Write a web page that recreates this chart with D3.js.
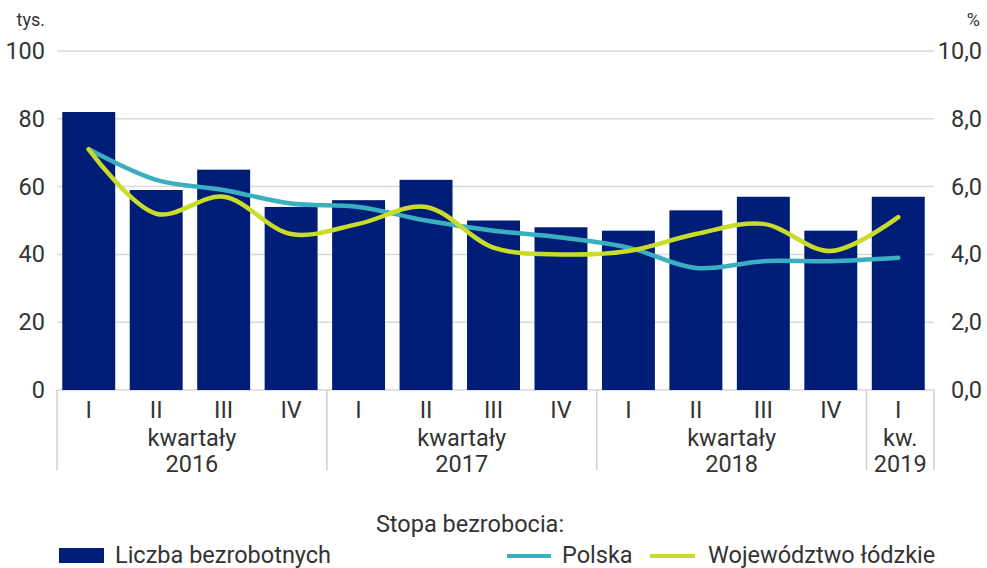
<!DOCTYPE html>
<html>
<head>
<meta charset="utf-8">
<script src="https://cdn.jsdelivr.net/npm/d3@7"></script>
<style>
  body { margin: 0; background: #fff; }
  svg text { font-family: Roboto, "Open Sans", sans-serif; fill: #333; }
</style>
</head>
<body>
<div id="chart"></div>
<script>
var quarters = ["I", "II", "III", "IV", "I", "II", "III", "IV", "I", "II", "III", "IV", "I"];
var yearGroups = [
  { top: "kwartały", year: "2016", count: 4 },
  { top: "kwartały", year: "2017", count: 4 },
  { top: "kwartały", year: "2018", count: 4 },
  { top: "kw.", year: "2019", count: 1 }
];
var unemployed = [82, 59, 65, 54, 56, 62, 50, 48, 47, 53, 57, 47, 57];
var ratePoland = [7.1, 6.2, 5.9, 5.5, 5.4, 5.0, 4.7, 4.5, 4.2, 3.6, 3.8, 3.8, 3.9];
var rateLodzkie = [7.1, 5.2, 5.7, 4.6, 4.9, 5.4, 4.2, 4.0, 4.1, 4.6, 4.9, 4.1, 5.1];
var leftTicks = [0, 20, 40, 60, 80, 100];
var rightTicks = [0, 2, 4, 6, 8, 10];

var colors = { bar: "#001e78", poland: "#3aafbf", lodzkie: "#c9dc2a", grid: "#d9d9d9", sep: "#cfcfcf" };

var width = 987, height = 568;
var plotLeft = 57, plotRight = 934, plotTop = 51, plotBottom = 390;
var fs = 23.5;
var shift = -2; // bars sit a touch left of their band centre in the original

var svg = d3.select("#chart").append("svg")
    .attr("width", width)
    .attr("height", height);

var x = d3.scaleBand().domain(d3.range(quarters.length)).range([plotLeft, plotRight]).paddingInner(0.215).paddingOuter(0.1075);
var yL = d3.scaleLinear().domain([0, 100]).range([plotBottom, plotTop]);
var yR = d3.scaleLinear().domain([0, 10]).range([plotBottom, plotTop]);

// gridlines
svg.append("g").selectAll("line").data(leftTicks).enter().append("line")
    .attr("x1", plotLeft).attr("x2", plotRight)
    .attr("y1", function(d) { return yL(d); })
    .attr("y2", function(d) { return yL(d); })
    .attr("stroke", colors.grid).attr("stroke-width", 1.5);

// left axis labels
svg.append("g").selectAll("text").data(leftTicks).enter().append("text")
    .attr("x", 45)
    .attr("y", function(d) { return yL(d) + 8; })
    .attr("text-anchor", "end")
    .attr("font-size", fs)
    .text(function(d) { return d; });
svg.append("text").attr("x", 45).attr("y", 26).attr("text-anchor", "end")
    .attr("font-size", 18).text("tys.");

// right axis labels
svg.append("g").selectAll("text").data(rightTicks).enter().append("text")
    .attr("x", 982)
    .attr("y", function(d) { return yR(d) + 8; })
    .attr("text-anchor", "end")
    .attr("font-size", fs)
    .text(function(d) { return d.toFixed(1).replace(".", ","); });
svg.append("text").attr("x", 980).attr("y", 26).attr("text-anchor", "end")
    .attr("font-size", 18).text("%");

// bars
svg.append("g").selectAll("rect").data(unemployed).enter().append("rect")
    .attr("x", function(d, i) { return x(i) + shift; })
    .attr("y", function(d) { return yL(d); })
    .attr("width", x.bandwidth())
    .attr("height", function(d) { return plotBottom - yL(d); })
    .attr("fill", colors.bar);

// lines
var line = function(scale) {
  return d3.line()
    .x(function(d, i) { return x(i) + x.bandwidth() / 2 + shift; })
    .y(function(d) { return scale(d); })
    .curve(d3.curveCatmullRom.alpha(0.5));
};
svg.append("path").datum(ratePoland)
    .attr("d", line(yR))
    .attr("fill", "none").attr("stroke", colors.poland)
    .attr("stroke-width", 4.5).attr("stroke-linecap", "round");
svg.append("path").datum(rateLodzkie)
    .attr("d", line(yR))
    .attr("fill", "none").attr("stroke", colors.lodzkie)
    .attr("stroke-width", 4.5).attr("stroke-linecap", "round");

// category axis
var axisG = svg.append("g");
axisG.selectAll("text.q").data(quarters).enter().append("text")
    .attr("class", "q")
    .attr("x", function(d, i) { return x(i) + x.bandwidth() / 2 + shift; })
    .attr("y", 418)
    .attr("text-anchor", "middle")
    .attr("font-size", fs)
    .text(function(d) { return d; });

var start = 0;
var seps = [plotLeft];
yearGroups.forEach(function(g) {
  var x0 = x(start) - x.step() * x.paddingInner() / 2;
  var end = start + g.count - 1;
  var x1 = x(end) + x.bandwidth() + x.step() * x.paddingInner() / 2;
  var cx = (x0 + x1) / 2;
  axisG.append("text").attr("x", cx).attr("y", 446).attr("text-anchor", "middle")
      .attr("font-size", fs).text(g.top);
  axisG.append("text").attr("x", cx).attr("y", 472).attr("text-anchor", "middle")
      .attr("font-size", fs).text(g.year);
  seps.push(x1);
  start += g.count;
});
axisG.selectAll("line").data(seps).enter().append("line")
    .attr("x1", function(d) { return d; }).attr("x2", function(d) { return d; })
    .attr("y1", plotBottom).attr("y2", 470)
    .attr("stroke", colors.sep).attr("stroke-width", 1.5);

// legend
var legend = svg.append("g");
legend.append("text").attr("x", 470).attr("y", 532).attr("text-anchor", "middle")
    .attr("font-size", fs).text("Stopa bezrobocia:");
legend.append("rect").attr("x", 59).attr("y", 548).attr("width", 45).attr("height", 15)
    .attr("fill", colors.bar);
legend.append("text").attr("x", 115).attr("y", 563).attr("font-size", fs).text("Liczba bezrobotnych");
legend.append("line").attr("x1", 507).attr("x2", 551).attr("y1", 556).attr("y2", 556)
    .attr("stroke", colors.poland).attr("stroke-width", 4);
legend.append("text").attr("x", 562).attr("y", 563).attr("font-size", fs).text("Polska");
legend.append("line").attr("x1", 650).attr("x2", 695).attr("y1", 556).attr("y2", 556)
    .attr("stroke", colors.lodzkie).attr("stroke-width", 4);
legend.append("text").attr("x", 708).attr("y", 563).attr("font-size", fs).text("Województwo łódzkie");
</script>
</body>
</html>
